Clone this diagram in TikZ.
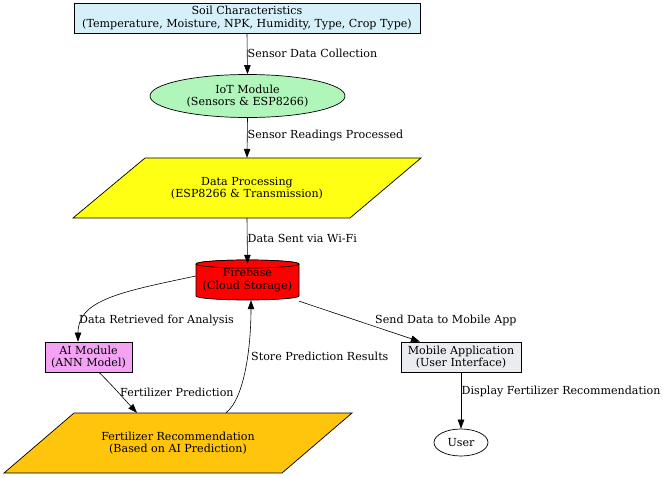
\documentclass[tikz,border=0pt]{standalone}
\usepackage{fontspec}
\setmainfont{DejaVu Serif}
\usetikzlibrary{arrows.meta,shapes.geometric}
\definecolor{soilc}{RGB}{214,240,249}
\definecolor{iotc}{RGB}{176,245,185}
\definecolor{aic}{RGB}{244,162,244}
\definecolor{frc}{RGB}{255,196,12}
\definecolor{mobc}{RGB}{235,236,240}
\definecolor{ylw}{RGB}{255,255,20}
\tikzset{
  every node/.style={font=\fontsize{11.1}{12.4}\selectfont, align=center, inner sep=0pt},
  boxnode/.style={draw, line width=0.7pt},
  edge/.style={-{Triangle[length=9pt,width=6.5pt]}, line width=0.6pt},
  elabel/.style={anchor=west},
}
\begin{document}
\begin{tikzpicture}[x=1pt,y=-1pt]
\useasboundingbox (0,0) rectangle (667,477);
% Soil
\node[boxnode, fill=soilc, minimum width=346pt, minimum height=30pt] (soil) at (247,18)
  {Soil Characteristics\\(Temperature, Moisture, NPK, Humidity, Type, Crop Type)};
% IoT
\node[boxnode, ellipse, fill=iotc, minimum width=195pt, minimum height=43pt] (iot) at (247.5,96)
  {IoT Module\\(Sensors \& ESP8266)};
% Data processing parallelogram
\draw[line width=0.7pt, fill=ylw] (145,158) -- (421,158) -- (350,218) -- (73,218) -- cycle;
\node[minimum width=276pt, minimum height=60pt] (dp) at (247,188)
  {Data Processing\\(ESP8266 \& Transmission)};
% Firebase cylinder
\draw[line width=0.7pt, fill=red] (196,264) arc[start angle=180, end angle=360, x radius=51.5, y radius=4]
  -- (299,296) arc[start angle=0, end angle=180, x radius=51.5, y radius=4] -- cycle;
\draw[line width=0.7pt, fill=red] (247.5,264) ellipse[x radius=51.5, y radius=4];
\node[minimum width=103pt, minimum height=40pt] (fb) at (247.5,280)
  {Firebase\\(Cloud Storage)};
% AI module
\node[boxnode, fill=aic, minimum width=87pt, minimum height=30pt] (ai) at (88.5,357)
  {AI Module\\(ANN Model)};
% Mobile app
\node[boxnode, fill=mobc, minimum width=120pt, minimum height=30pt] (mob) at (461,357)
  {Mobile Application\\(User Interface)};
% Fertilizer recommendation parallelogram
\draw[line width=0.7pt, fill=frc] (74,413) -- (352,413) -- (282,473) -- (4,473) -- cycle;
\node[minimum width=278pt, minimum height=60pt] (fr) at (178,443)
  {Fertilizer Recommendation\\(Based on AI Prediction)};
% User
\node[boxnode, ellipse, minimum width=54pt, minimum height=27pt] (user) at (461,442.5) {User};

% Edges
\draw[edge] (soil.south) -- (iot.north);
\node[elabel] (l1) at (247.5,53) {Sensor Data Collection};
\draw[edge] (iot.south) -- (dp.north);
\node[elabel] (l2) at (247.5,136) {Sensor Readings Processed};
\draw[edge] (dp.south) -- ([yshift=-4pt]fb.north);
\node[elabel] (l3) at (247.5,238) {Data Sent via Wi-Fi};
\draw[edge] ([yshift=4pt]fb.west) .. controls (120,292) and (78,300) .. ([xshift=-10.5pt]ai.north);
\node[elabel] (l4) at (79,321) {Data Retrieved for Analysis};
\draw[edge] ([yshift=-1pt]fb.south east) -- ([xshift=-41pt]mob.north);
\node[elabel] (l5) at (375,320) {Send Data to Mobile App};
\draw[edge] ([xshift=10.5pt]ai.south) .. controls (112,385) and (125,400) .. ([xshift=-41pt]fr.north);
\node[elabel] (l6) at (120,392) {Fertilizer Prediction};
\draw[edge] ([xshift=48pt]fr.north) .. controls (245,398) and (251,345) .. ([xshift=3.5pt]fb.south);
\node[elabel] (l7) at (251,356) {Store Prediction Results};
\draw[edge] (mob.south) -- (user.north);
\node[elabel] (l8) at (461.5,392) {Display Fertilizer Recommendation};
\end{tikzpicture}
\end{document}
